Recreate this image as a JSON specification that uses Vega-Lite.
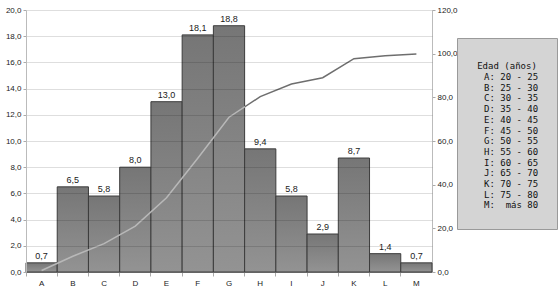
{
  "$schema": "https://vega.github.io/schema/vega-lite/v6.json",
  "width": 406,
  "height": 262,
  "padding": {"left": 26, "top": 10, "right": 128, "bottom": 19},
  "autosize": {"type": "none"},
  "background": "white",
  "data": {
    "values": [
      {"cat": "A", "pct": 0.7, "acum": 0.7, "rango": "A: 20 - 25"},
      {"cat": "B", "pct": 6.5, "acum": 7.2, "rango": "B: 25 - 30"},
      {"cat": "C", "pct": 5.8, "acum": 13.0, "rango": "C: 30 - 35"},
      {"cat": "D", "pct": 8.0, "acum": 21.0, "rango": "D: 35 - 40"},
      {"cat": "E", "pct": 13.0, "acum": 34.0, "rango": "E: 40 - 45"},
      {"cat": "F", "pct": 18.1, "acum": 52.1, "rango": "F: 45 - 50"},
      {"cat": "G", "pct": 18.8, "acum": 70.9, "rango": "G: 50 - 55"},
      {"cat": "H", "pct": 9.4, "acum": 80.3, "rango": "H: 55 - 60"},
      {"cat": "I", "pct": 5.8, "acum": 86.1, "rango": "I: 60 - 65"},
      {"cat": "J", "pct": 2.9, "acum": 89.0, "rango": "J: 65 - 70"},
      {"cat": "K", "pct": 8.7, "acum": 97.7, "rango": "K: 70 - 75"},
      {"cat": "L", "pct": 1.4, "acum": 99.1, "rango": "L: 75 - 80"},
      {"cat": "M", "pct": 0.7, "acum": 99.8, "rango": "M:\u00a0\u00a0más 80"}
    ]
  },
  "encoding": {
    "x": {
      "field": "cat", "type": "nominal", "title": null,
      "scale": {"paddingInner": 0, "paddingOuter": 0},
      "axis": {
        "labelAngle": 0, "labelFontSize": 8, "labelColor": "#222", "labelFont": "Liberation Sans",
        "labelPadding": 3, "tickSize": 4, "tickColor": "#aaa", "domainColor": "#aaa",
        "bandPosition": 0, "grid": false
      }
    }
  },
  "layer": [
    {
      "mark": {
        "type": "bar",
        "stroke": "#3c3c3c", "strokeWidth": 1,
        "fill": {
          "gradient": "linear", "x1": 0, "x2": 0, "y1": 0, "y2": 1,
          "stops": [
            {"offset": 0, "color": "#767676"},
            {"offset": 1, "color": "#939393"}
          ]
        }
      },
      "encoding": {
        "y": {
          "field": "pct", "type": "quantitative", "title": null,
          "scale": {"domain": [0, 20], "nice": false},
          "axis": {
            "values": [0, 2, 4, 6, 8, 10, 12, 14, 16, 18, 20],
            "format": ".1f", "labelFontSize": 8, "labelColor": "#222", "labelFont": "Liberation Sans",
            "tickSize": 3, "tickColor": "#aaa", "labelPadding": 2,
            "domainColor": "#bbb", "grid": true, "gridColor": "#000", "gridOpacity": 0.13,
            "zindex": 1
          }
        }
      }
    },
    {
      "mark": {"type": "text", "baseline": "alphabetic", "dy": -4, "fontSize": 9, "font": "Liberation Sans", "color": "#1a1a1a"},
      "encoding": {
        "y": {"field": "pct", "type": "quantitative", "scale": {"domain": [0, 20], "nice": false}, "axis": null},
        "text": {"field": "pct", "type": "quantitative", "format": ".1f"}
      }
    },
    {
      "layer": [
        {
          "mark": {
            "type": "line", "strokeWidth": 1.5,
            "stroke": {
              "gradient": "linear", "x1": 0, "x2": 1, "y1": 0, "y2": 0,
              "stops": [
                {"offset": 0, "color": "#b8b8b8"},
                {"offset": 0.542, "color": "#b8b8b8"},
                {"offset": 0.543, "color": "#6e6e6e"},
                {"offset": 1, "color": "#6e6e6e"}
              ]
            }
          },
          "encoding": {
            "y": {
              "field": "acum", "type": "quantitative", "title": null,
              "scale": {"domain": [0, 120], "nice": false},
              "axis": {
                "orient": "right",
                "values": [0, 20, 40, 60, 80, 100, 120],
                "format": ".1f", "labelFontSize": 8, "labelColor": "#222", "labelFont": "Liberation Sans",
                "tickSize": 3, "tickColor": "#aaa", "labelPadding": 2,
                "domainColor": "#bbb", "grid": false
              }
            }
          }
        },
        {
          "mark": {"type": "point", "opacity": 0},
          "encoding": {
            "y": {"field": "acum", "type": "quantitative", "scale": {"domain": [0, 120], "nice": false}},
            "shape": {
              "field": "rango", "type": "nominal",
              "legend": {
                "title": ["", "Edad (años)"],
                "orient": "none", "legendX": 431, "legendY": 28,
                "padding": 18, "fillColor": "#d4d4d4", "strokeColor": "#9a9a9a",
                "titleFont": "DejaVu Sans Mono", "titleFontSize": 9, "titleFontWeight": "normal", "titleColor": "#111",
                "titleAnchor": "middle", "titlePadding": 1.5, "titleLineHeight": 6,
                "labelFont": "DejaVu Sans Mono", "labelFontSize": 9, "labelColor": "#111",
                "symbolSize": 0, "symbolStrokeWidth": 0, "symbolOpacity": 0, "labelOffset": 0,
                "rowPadding": 0.7, "labelLimit": 200
              }
            }
          }
        }
      ]
    }
  ],
  "resolve": {"scale": {"y": "independent"}},
  "config": {
    "view": {"stroke": null},
    "locale": {"number": {"decimal": ",", "thousands": ".", "grouping": [3], "currency": ["", " €"]}}
  }
}
